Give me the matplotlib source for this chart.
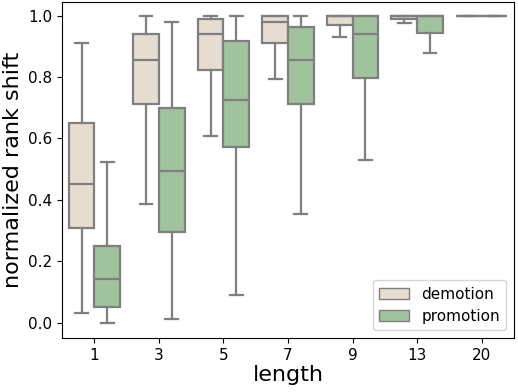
import matplotlib
matplotlib.use("Agg")
import matplotlib.pyplot as plt
from matplotlib.patches import Patch

lengths = ["1", "3", "5", "7", "9", "13", "20"]
groups = ["demotion", "promotion"]

# box stats per length: whisker low, q1, median, q3, whisker high
dem_whislo = [0.03, 0.385, 0.608, 0.793, 0.93, 0.978, 1.0]
dem_q1 = [0.308, 0.714, 0.824, 0.91, 0.97, 0.99, 1.0]
dem_med = [0.451, 0.855, 0.939, 0.98, 1.0, 1.0, 1.0]
dem_q3 = [0.652, 0.940, 0.989, 1.0, 1.0, 1.0, 1.0]
dem_whishi = [0.91, 1.0, 1.0, 1.0, 1.0, 1.0, 1.0]

pro_whislo = [0.0, 0.01, 0.091, 0.355, 0.53, 0.88, 1.0]
pro_q1 = [0.051, 0.294, 0.571, 0.714, 0.797, 0.945, 1.0]
pro_med = [0.143, 0.493, 0.727, 0.856, 0.939, 1.0, 1.0]
pro_q3 = [0.249, 0.698, 0.919, 0.965, 1.0, 1.0, 1.0]
pro_whishi = [0.524, 0.98, 1.0, 1.0, 1.0, 1.0, 1.0]

colors = {"demotion": "#e6ddd0", "promotion": "#a0c29c"}
line_c = "#7f7f7f"


def make_stats(lo, q1, med, q3, hi):
    return [dict(whislo=a, q1=b, med=c, q3=d, whishi=e, fliers=[])
            for a, b, c, d, e in zip(lo, q1, med, q3, hi)]


stats = {
    "demotion": make_stats(dem_whislo, dem_q1, dem_med, dem_q3, dem_whishi),
    "promotion": make_stats(pro_whislo, pro_q1, pro_med, pro_q3, pro_whishi),
}

fig = plt.figure(figsize=(5.18, 3.92), dpi=100)
ax = fig.add_axes([0.12, 0.138, 0.872, 0.857])

n = len(lengths)
for k, g in enumerate(groups):
    offset = -0.2 if k == 0 else 0.2
    pos = [i + offset for i in range(n)]
    lp = dict(color=line_c, linewidth=1.6)
    ax.bxp(stats[g], positions=pos, widths=0.4, patch_artist=True,
           showfliers=False,
           boxprops=dict(facecolor=colors[g], edgecolor=line_c, linewidth=1.6),
           medianprops=lp, whiskerprops=lp, capprops=lp)

ax.set_xticks(range(n))
ax.set_xticklabels(lengths, fontsize=11)
ax.set_xlim(-0.5, n - 0.5)
ax.set_ylim(-0.05, 1.045)
ax.set_yticks([0.0, 0.2, 0.4, 0.6, 0.8, 1.0])
ax.tick_params(axis="y", labelsize=11)
ax.set_xlabel("length", fontsize=16, labelpad=2)
ax.set_ylabel("normalized rank shift", fontsize=16)

handles = [Patch(facecolor=colors[g], edgecolor=line_c, label=g) for g in groups]
ax.legend(handles=handles, loc="lower right", fontsize=11)

fig.savefig("out.png", dpi=100)
